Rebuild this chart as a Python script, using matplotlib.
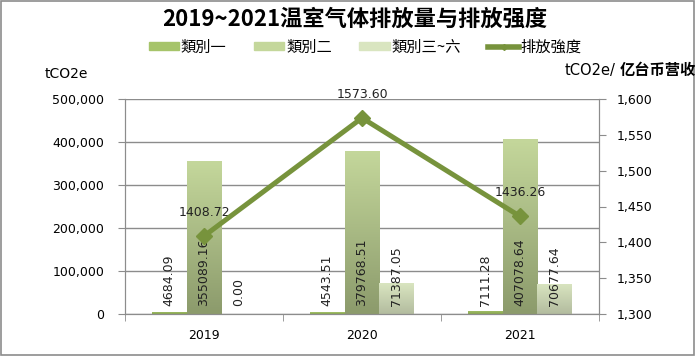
import numpy as np
import matplotlib
matplotlib.use("Agg")
import matplotlib.pyplot as plt
from matplotlib.colors import LinearSegmentedColormap
from matplotlib.patches import Rectangle
from matplotlib.lines import Line2D
from matplotlib.ticker import FuncFormatter, FixedLocator

plt.rcParams['font.family'] = ['DejaVu Sans', 'Noto Sans CJK SC']

# --- DATA ---
years = ["2019", "2020", "2021"]
scope1 = [4684.09, 4543.51, 7111.28]
scope2 = [355089.16, 379768.51, 407078.64]
scope3_6 = [0.00, 71387.05, 70677.64]
intensity = [1408.72, 1573.60, 1436.26]
series_names = ["類別一", "類別二", "類別三~六", "排放強度"]

# --- STYLE ---
bar_grad = [("#a6c46a", "#88a650"), ("#c4d79b", "#8c9b6c"), ("#d9e5c0", "#b3bc9f")]
line_col = "#77933c"
grid_col = "#8c8c8c"
cjk = ['Noto Sans CJK SC', 'DejaVu Sans']

fig = plt.figure(figsize=(6.97, 3.56), dpi=100)
ax = fig.add_axes([125 / 697, 42 / 356, 474 / 697, 215 / 356])
ax2 = ax.twinx()

x = np.arange(len(years))
w = 0.22

# bars with vertical gradient
for i, (vals, (top, bot)) in enumerate(zip([scope1, scope2, scope3_6], bar_grad)):
    bars = ax.bar(x + (i - 1) * w, vals, w, color="none", edgecolor="none", zorder=2)
    cmap = LinearSegmentedColormap.from_list("g%d" % i, [bot, top])
    for b in bars:
        h = b.get_height()
        if h <= 0:
            continue
        grad = np.linspace(0, 1, 64).reshape(-1, 1)
        im = ax.imshow(grad, cmap=cmap, aspect="auto", origin="lower",
                       extent=[b.get_x(), b.get_x() + b.get_width(), 0, h], zorder=2)
        im.set_clip_path(b)
    for xi, v in zip(x + (i - 1) * w, vals):
        ax.annotate(f"{v:.2f}", (xi, 0), xytext=(0, 6), textcoords="offset points",
                    rotation=90, ha="center", va="bottom", fontsize=9, color="#222222", zorder=5)

ax.set_xlim(-0.5, 2.5)
ax.set_ylim(0, 500000)
ax.yaxis.set_major_locator(FixedLocator(np.arange(0, 500001, 100000)))
ax.yaxis.set_major_formatter(FuncFormatter(lambda v, p: f"{int(v):,}"))
ax.grid(axis="y", color=grid_col, lw=1, zorder=0)
ax.set_axisbelow(True)

ax.set_xticks(x)
ax.set_xticklabels(years, fontsize=9)
ax.set_xticks([-0.5, 0.5, 1.5, 2.5], minor=True)
ax.tick_params(axis="x", which="major", length=0, pad=11)
ax.tick_params(axis="x", which="minor", length=5, color=grid_col, direction="out")
ax.tick_params(axis="y", length=5, color=grid_col, labelsize=9, pad=10)

# intensity line on secondary axis
ax2.plot(x, intensity, color=line_col, lw=3.6, marker="D", markersize=8.5, zorder=4)
for xi, v in zip(x, intensity):
    ax2.annotate(f"{v:.2f}", (xi, v), xytext=(0, 17), textcoords="offset points",
                 ha="center", va="center", fontsize=9, color="#222222")
ax2.set_ylim(1300, 1600)
ax2.yaxis.set_major_locator(FixedLocator(np.arange(1300, 1601, 50)))
ax2.yaxis.set_major_formatter(FuncFormatter(lambda v, p: f"{int(v):,}"))
ax2.tick_params(axis="y", length=5, color=grid_col, labelsize=9, pad=8)

for a in (ax, ax2):
    a.spines["top"].set_visible(False)
    for s in ("left", "right", "bottom"):
        a.spines[s].set_color(grid_col)

# title, axis units
fig.text(355 / 697, 1 - 19 / 356, "2019~2021温室气体排放量与排放强度", ha="center", va="center",
         fontsize=16, fontweight="bold", family=cjk)
fig.text(45 / 697, 1 - 74 / 356, "tCO2e", ha="left", va="center", fontsize=10)
fig.text(565 / 697, 1 - 70 / 356, "tCO2e/", ha="left", va="center", fontsize=10.5)
fig.text(696 / 697, 1 - 70 / 356, "亿台币营收", ha="right", va="center", fontsize=11,
         fontweight="bold", family=cjk)

# legend
handles = [Rectangle((0, 0), 1, 1, color=c[0]) for c in bar_grad]
handles.append(Line2D([], [], color=line_col, lw=4, marker="D", markersize=3))
leg = fig.legend(handles, series_names, loc="center", bbox_to_anchor=(365 / 697, 1 - 47 / 356),
                 ncol=4, frameon=False, prop={"family": cjk, "size": 11},
                 handlelength=2.0, handleheight=0.35, handletextpad=0.1, columnspacing=1.8)

# outer frame
fig.patches.append(Rectangle((0.002, 0.003), 0.993, 0.994, transform=fig.transFigure,
                             fill=False, edgecolor="#8c8c8c", lw=1.2))

fig.savefig("out.png", dpi=100)
